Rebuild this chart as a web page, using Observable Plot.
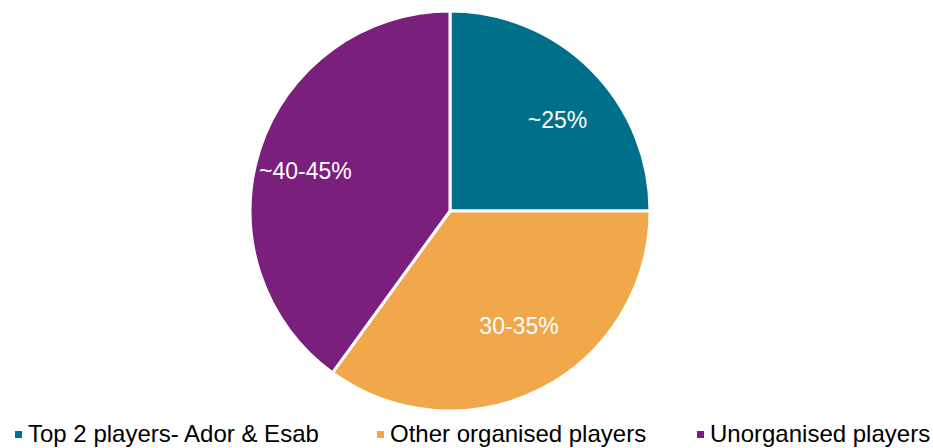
<!DOCTYPE html>
<html><head><meta charset="utf-8">
<script src="https://cdn.jsdelivr.net/npm/d3@7"></script>
<script src="https://cdn.jsdelivr.net/npm/@observablehq/plot@0.6"></script>
<style>
body{margin:0;background:#fff;font-family:"Liberation Sans",Arial,sans-serif;overflow:hidden;}
#legend{height:28px;font-size:24px;color:#000;position:relative;}
.item{position:absolute;top:0;height:28px;display:flex;align-items:center;white-space:nowrap;}
.sw{width:7px;height:7px;margin-right:6px;}
</style></head><body>
<div id="chart"></div>
<div id="legend"></div>
<script>
const categories = ["Top 2 players- Ador & Esab", "Other organised players", "Unorganised players"];
const values = [25, 35, 40];
const labels = ["~25%", "30-35%", "~40-45%"];
const colors = ["#00708A", "#F0A84B", "#7B1F7D"];

const data = categories.map((c, i) => ({category: c, value: values[i], label: labels[i]}));
const W = 933, H = 420;
const cx = 450, cy = 211, R = 200;

const pieMark = (index, scales, values_, dims, context) => {
  const svg = d3.create("svg:g");
  const arcs = d3.pie().sort(null).value(d => d.value)(data);
  const arc = d3.arc().innerRadius(0).outerRadius(R);
  const labelArc = d3.arc().innerRadius(R * 0.76).outerRadius(R * 0.76);
  const g = svg.append("g").attr("transform", `translate(${cx},${cy})`);
  g.selectAll("path").data(arcs).join("path")
    .attr("d", arc)
    .attr("fill", d => scales.color(d.data.category))
    .attr("stroke", "#fff").attr("stroke-width", 3).attr("stroke-linejoin", "round");
  g.selectAll("text").data(arcs).join("text")
    .attr("transform", d => {
      const [x, y] = labelArc.centroid(d);
      return `translate(${x},${y * 0.85})`;
    })
    .attr("text-anchor", "middle").attr("dy", "0.35em")
    .attr("fill", "#fff").attr("font-size", 23)
    .attr("font-family", '"Liberation Sans", Arial, sans-serif')
    .text(d => d.data.label);
  return svg.node();
};

const chart = Plot.plot({
  width: W, height: H, margin: 0,
  x: {axis: null}, y: {axis: null},
  color: {domain: categories, range: colors},
  marks: [pieMark]
});
document.getElementById("chart").appendChild(chart);

const legend = document.getElementById("legend");
const xs = [15, 377, 697];
categories.forEach((c, i) => {
  const it = document.createElement("div");
  it.className = "item";
  it.style.left = xs[i] + "px";
  it.innerHTML = `<span class="sw" style="background:${colors[i]}"></span><span>${c}</span>`;
  legend.appendChild(it);
});
</script></body></html>
